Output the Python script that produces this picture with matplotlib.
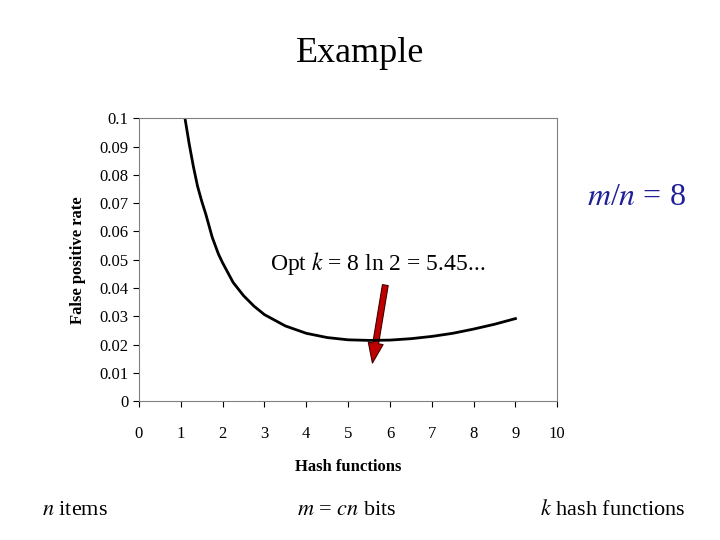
import matplotlib
matplotlib.use("Agg")
import matplotlib.pyplot as plt
from matplotlib.patches import FancyArrowPatch

plt.rcParams["font.family"] = ["Liberation Serif", "DejaVu Serif"]
plt.rcParams["mathtext.fontset"] = "stix"

# values
k = [1.1, 1.2, 1.3, 1.4, 1.5, 1.6, 1.75, 1.9, 2.0, 2.25, 2.5, 2.75, 3.0, 3.5, 4.0, 4.5, 5.0, 5.5, 6.0, 6.5, 7.0, 7.5, 8.0, 8.5, 9.0]
fpr = [0.100, 0.091, 0.083, 0.076, 0.0707, 0.066, 0.058, 0.052, 0.0489, 0.042, 0.0373, 0.0336, 0.0306, 0.0266, 0.0240, 0.0225, 0.0217, 0.0215, 0.0216, 0.0221, 0.0229, 0.0240, 0.0255, 0.0272, 0.0292]
xticks = list(range(0, 11))
yticks = [0, 0.01, 0.02, 0.03, 0.04, 0.05, 0.06, 0.07, 0.08, 0.09, 0.1]

fig = plt.figure(figsize=(7.2, 5.4), dpi=100)
ax = fig.add_axes([0.193, 0.257, 0.581, 0.524])
ax.plot(k, fpr, color="black", lw=2)
ax.set_xlim(0, 10)
ax.set_ylim(0, 0.1)
ax.set_xticks(xticks)
ax.set_xticklabels([str(t) for t in xticks])
ax.set_yticks(yticks)
ax.set_yticklabels(["0", "0.01", "0.02", "0.03", "0.04", "0.05", "0.06", "0.07", "0.08", "0.09", "0.1"])
ax.tick_params(labelsize=12, length=4, direction="out")
ax.tick_params(axis="x", pad=14)
for s in ax.spines.values():
    s.set_color("#808080")
ax.set_xlabel("Hash functions", fontsize=12, fontweight="bold", labelpad=12)
ax.set_ylabel("False positive rate", fontsize=12, fontweight="bold", labelpad=10)

arrow = FancyArrowPatch((5.9, 0.042), (5.57, 0.0125),
                        arrowstyle="simple,head_width=0.9,head_length=1.2,tail_width=0.35",
                        mutation_scale=12, fc="#c00000", ec="#400000", lw=0.8)
ax.add_patch(arrow)

fig.text(0.5, 0.885, "Example", ha="center", fontsize=26)
fig.text(0.375, 0.5, "Opt $k$ = 8 ln 2 = 5.45...", fontsize=17)
fig.text(0.953, 0.62, "$m$/$n$ = 8", ha="right", fontsize=23, color="#1f1f99")
fig.text(0.058, 0.047, "$n$ items", fontsize=16)
fig.text(0.413, 0.047, "$m$ = $cn$ bits", fontsize=16)
fig.text(0.953, 0.047, "$k$ hash functions", ha="right", fontsize=16)

fig.savefig("out.png", dpi=100)
